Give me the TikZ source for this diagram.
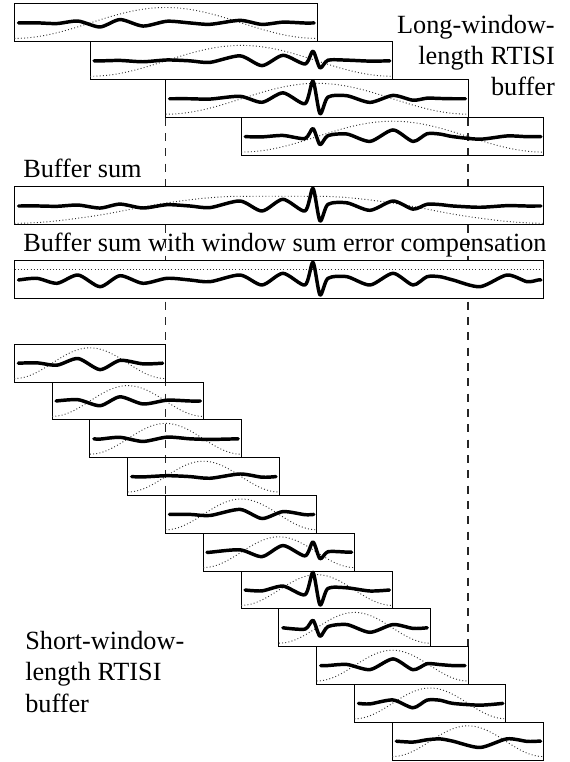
\documentclass[tikz,border=0pt]{standalone}
\usepackage{fontspec}
\setmainfont{Liberation Serif}

% Hann window on [0,1], zero outside
\pgfmathdeclarefunction{hannw}{1}{%
  \pgfmathparse{and(#1>0,#1<1)*sin(180*#1)*sin(180*#1)}%
}
% half the sum of the four overlapping long windows at x = #1
\pgfmathdeclarefunction{olasum}{1}{%
  \pgfmathparse{(hannw((#1-14.5)/302.6)+hannw((#1-90.1)/302.6)+hannw((#1-165.7)/302.6)+hannw((#1-241.3)/302.6))/2}%
}

% the test signal: x position / upward deflection
\def\sigpts{18/-1.7,37/1.7,57/-3.3,78/5,100/-6.7,120/4.3,143/-3.3,167/1.7,190/0,210/-1.7,240/5,262/-5,283/6.7,305/-5,313/17.7,320/-15,328/1.7,347/3.3,370/-5,393/6.7,413/-5,427/3.3,440/3.3,453/0,480/-6.7,507/5,527/-1.7,538/0}

% signal inside a frame: #1 left, #2 right, #3 centre line,
% #4 weighting: 0 = Hann of the frame, 1 = window sum, 2 = none
\newcommand\wavein[4]{%
  \xdef\wavepts{(#1+4,#3)}%
  \foreach \sx/\sv in \sigpts {%
    \pgfmathtruncatemacro\inside{and(\sx>#1+6,\sx<#2-5)}%
    \ifnum\inside=1
      \ifcase#4
        \pgfmathsetmacro\wv{hannw((\sx-(#1))/((#2)-(#1)))}%
      \or
        \pgfmathsetmacro\wv{olasum(\sx)}%
      \or
        \def\wv{1}%
      \fi
      \pgfmathsetmacro\wy{#3-(\sv)*\wv}%
      \xdef\wavepts{\wavepts (\sx,\wy)}%
    \fi
  }%
  \draw[wave] plot[smooth,tension=0.45] coordinates {\wavepts (#2-3,#3)};
}

\tikzset{
  frame/.style={draw=black, line width=0.75pt},
  wave/.style={draw=black, line width=2.6pt, line cap=round, line join=round},
  winline/.style={draw=black!80, line width=0.7pt, dash pattern=on 0.7pt off 1.7pt},
  guide/.style={draw=black!85, line width=0.9pt, dash pattern=on 6pt off 5.5pt},
  lbl/.style={font=\fontsize{19.7}{23.6}\selectfont, inner sep=0pt, text=black}
}

\begin{document}
\begin{tikzpicture}[x=0.75pt, y=-0.75pt]
\useasboundingbox (0,0) rectangle (569,762);

% alignment guides
\coordinate (gla) at (165.7,117.7);
\coordinate (glb) at (165.7,495.7);
\coordinate (gra) at (468,117.7);
\coordinate (grb) at (468,646.7);
\draw[guide] (gla) -- (glb);
\draw[guide] (gra) -- (grb);

% long-window frames
\foreach \k in {0,...,3} {
  \pgfmathsetmacro\bx{14.5+75.6*\k}
  \pgfmathsetmacro\bxr{\bx+302.6}
  \pgfmathsetmacro\by{4+37.9*\k}
  \pgfmathsetmacro\byc{\by+18.95}
  \draw[frame] (\bx,\by) rectangle (\bxr,\by+37.9);
  \draw[winline] plot[domain=0:1,samples=41,smooth]
    ({\bx+302.6*\x},{\by+37.9-3.5-30.9*sin(180*\x)*sin(180*\x)});
  \wavein{\bx}{\bxr}{\byc}{0}
}

% buffer sum
\draw[frame, fill=white] (14.5,187) rectangle (543.9,225);
\draw[winline] plot[domain=14.5:543.9,samples=121,smooth] (\x,{223.3-27*olasum(\x)});
\wavein{14.5}{543.9}{206}{1}

% compensated buffer sum
\draw[frame, fill=white] (14.5,261) rectangle (543.9,299);
\draw[winline] (14.5,269.5) -- (543.9,269.5);
\wavein{14.5}{543.9}{280}{2}

% short-window frames
\foreach \j in {0,...,10} {
  \pgfmathsetmacro\bx{14.3+37.8*\j}
  \pgfmathsetmacro\bxr{\bx+151.3}
  \pgfmathsetmacro\by{344.3+37.8*\j}
  \pgfmathsetmacro\byc{\by+18.9}
  \draw[frame] (\bx,\by) rectangle (\bxr,\by+37.8);
  \draw[winline] plot[domain=0:1,samples=31,smooth]
    ({\bx+151.3*\x},{\by+37.8-3.5-30.8*sin(180*\x)*sin(180*\x)});
  \wavein{\bx}{\bxr}{\byc}{0}
}

% labels
\node[lbl, anchor=base west] (bufsum) at (23,178) {Buffer sum};
\node[lbl, anchor=base west] (bufcomp) at (23,252) {Buffer sum with window sum error compensation};
\node[lbl, align=right, anchor=base east] (longlbl) at (555,96) {Long-window-\\length RTISI\\buffer};
\node[lbl, align=left, anchor=base west] (shortlbl) at (25,712) {Short-window-\\length RTISI\\buffer};
\end{tikzpicture}
\end{document}
